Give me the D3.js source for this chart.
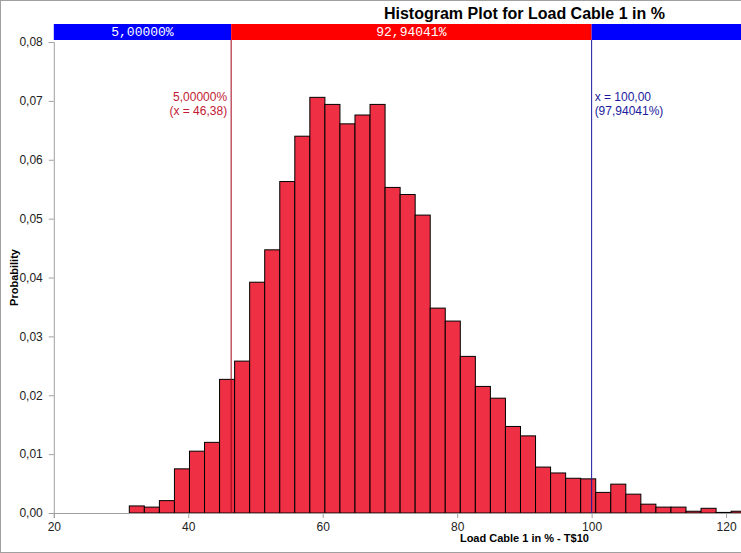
<!DOCTYPE html>
<html>
<head>
<meta charset="utf-8">
<script src="https://cdn.jsdelivr.net/npm/d3@7"></script>
<style>
  body { margin: 0; background: #fff; }
  svg { display: block; font-family: Arial, "Liberation Sans", sans-serif; }
</style>
</head>
<body>
<svg id="chart"></svg>
<script>
const svgWidth = 741;
const svgHeight = 553;

// histogram data (probability per bin)
const binStart = 31.23;
const binWidth = 2.238;
const probabilities = [
  0.0012, 0.0010, 0.0021, 0.0075, 0.0105, 0.0120, 0.0227, 0.0258, 0.0392, 0.0447,
  0.0563, 0.0640, 0.0706, 0.0694, 0.0661, 0.0676, 0.0694, 0.0553, 0.0541, 0.0506,
  0.0348, 0.0326, 0.0266, 0.0215, 0.0195, 0.0147, 0.0131, 0.0078, 0.0068, 0.0059,
  0.0058, 0.0035, 0.0049, 0.0032, 0.0015, 0.0010, 0.0010, 0.0003, 0.0008, 0.0001,
  0.0003, 0.0004
];
// only the ticks that fall inside the window
const xTicks = [20, 40, 60, 80, 100, 120];
const yTicks = [0, 0.01, 0.02, 0.03, 0.04, 0.05, 0.06, 0.07, 0.08];

// delimiters
const leftX = 46.38;
const leftPct = 5.00000;
const rightX = 100.00;
const rightPct = 97.94041;
const middlePct = 92.94041;

const locale = d3.formatLocale({decimal: ",", thousands: ".", grouping: [3], currency: ["", ""]});
const f2 = locale.format(".2f");
const f5 = locale.format(".5f");

// plot runs past the right edge of the window
const x = d3.scaleLinear().domain([20, 160]).range([53.8, 995]);
const y = d3.scaleLinear().domain([0, 0.08]).range([513, 42]);

let svg = d3.select('#chart')
  .attr('width', svgWidth)
  .attr('height', svgHeight);

// outer frame
svg.append('rect')
  .attr('x', 0.5).attr('y', 0.5)
  .attr('width', 1100).attr('height', svgHeight - 1)
  .attr('fill', 'none')
  .attr('stroke', '#a0a0a0');

svg.append('text')
  .attr('x', (x.range()[0] + x.range()[1]) / 2)
  .attr('y', 19)
  .attr('text-anchor', 'middle')
  .attr('font-size', 16)
  .attr('font-weight', 'bold')
  .attr('fill', '#000')
  .text('Histogram Plot for Load Cable 1 in %');

// top delimiter bar
const segs = [
  {from: 20, to: leftX, color: '#0000ff', label: f5(leftPct) + '%'},
  {from: leftX, to: rightX, color: '#ff0000', label: f5(middlePct) + '%'},
  {from: rightX, to: 160, color: '#0000ff', label: ''}
];
svg.selectAll('.seg')
  .data(segs)
  .enter().append('rect')
  .attr('x', d => x(d.from))
  .attr('y', 24)
  .attr('width', d => x(d.to) - x(d.from))
  .attr('height', 16)
  .attr('fill', d => d.color);
svg.selectAll('.segLabel')
  .data(segs.filter(d => d.label))
  .enter().append('text')
  .attr('x', d => (x(d.from) + x(d.to)) / 2)
  .attr('y', 36)
  .attr('text-anchor', 'middle')
  .attr('font-family', '"Liberation Mono", "DejaVu Sans Mono", monospace')
  .attr('font-size', 13)
  .attr('fill', '#fff')
  .text(d => d.label);

// bars
svg.selectAll('.bar')
  .data(probabilities)
  .enter().append('rect')
  .attr('x', (d, i) => x(binStart + i * binWidth))
  .attr('y', d => y(d))
  .attr('width', (d, i) => x(binStart + (i + 1) * binWidth) - x(binStart + i * binWidth))
  .attr('height', d => y(0) - y(d))
  .attr('fill', '#ee2f44')
  .attr('stroke', '#000')
  .attr('stroke-width', 1);

// axes
const axisColor = '#a0a0a0';
let yAxis = svg.append('g')
  .attr('transform', 'translate(' + x.range()[0] + ',0)')
  .call(d3.axisLeft(y).tickValues(yTicks).tickSize(5).tickPadding(6).tickFormat(d => f2(d)));
let xAxis = svg.append('g')
  .attr('transform', 'translate(0,' + y(0) + ')')
  .call(d3.axisBottom(x).tickValues(xTicks).tickSize(5).tickPadding(4).tickFormat(d3.format('d')));
[xAxis, yAxis].forEach(function (a) {
  a.select('.domain').attr('stroke', axisColor);
  a.selectAll('.tick line').attr('stroke', axisColor);
  a.selectAll('.tick text').attr('fill', '#222').attr('font-size', 12)
    .attr('font-family', 'Arial, "Liberation Sans", sans-serif');
});

svg.append('text')
  .attr('x', (x.range()[0] + x.range()[1]) / 2)
  .attr('y', 542)
  .attr('text-anchor', 'middle')
  .attr('font-size', 11)
  .attr('font-weight', 'bold')
  .text('Load Cable 1 in % - T$10');

svg.append('text')
  .attr('transform', 'translate(18,' + (y.range()[0] + y.range()[1]) / 2 + ') rotate(-90)')
  .attr('text-anchor', 'middle')
  .attr('font-size', 11)
  .attr('font-weight', 'bold')
  .text('Probability');

// delimiter lines
svg.append('line')
  .attr('x1', x(leftX)).attr('x2', x(leftX))
  .attr('y1', 40).attr('y2', y(0))
  .attr('stroke', '#a00018').attr('stroke-width', 1);
svg.append('line')
  .attr('x1', x(rightX)).attr('x2', x(rightX))
  .attr('y1', 40).attr('y2', y(0))
  .attr('stroke', '#1a1a9c').attr('stroke-width', 1);

let leftNote = svg.append('text')
  .attr('text-anchor', 'end')
  .attr('font-size', 12)
  .attr('fill', '#c21a33');
leftNote.append('tspan').attr('x', x(leftX) - 4).attr('y', 101).text(f5(leftPct) + '%');
leftNote.append('tspan').attr('x', x(leftX) - 4).attr('y', 115).text('(x = ' + f2(leftX) + ')');

let rightNote = svg.append('text')
  .attr('text-anchor', 'start')
  .attr('font-size', 12)
  .attr('fill', '#1a1a9c');
rightNote.append('tspan').attr('x', x(rightX) + 3).attr('y', 101).text('x = ' + f2(rightX));
rightNote.append('tspan').attr('x', x(rightX) + 3).attr('y', 115).text('(' + f5(rightPct) + '%)');
</script>
</body>
</html>
